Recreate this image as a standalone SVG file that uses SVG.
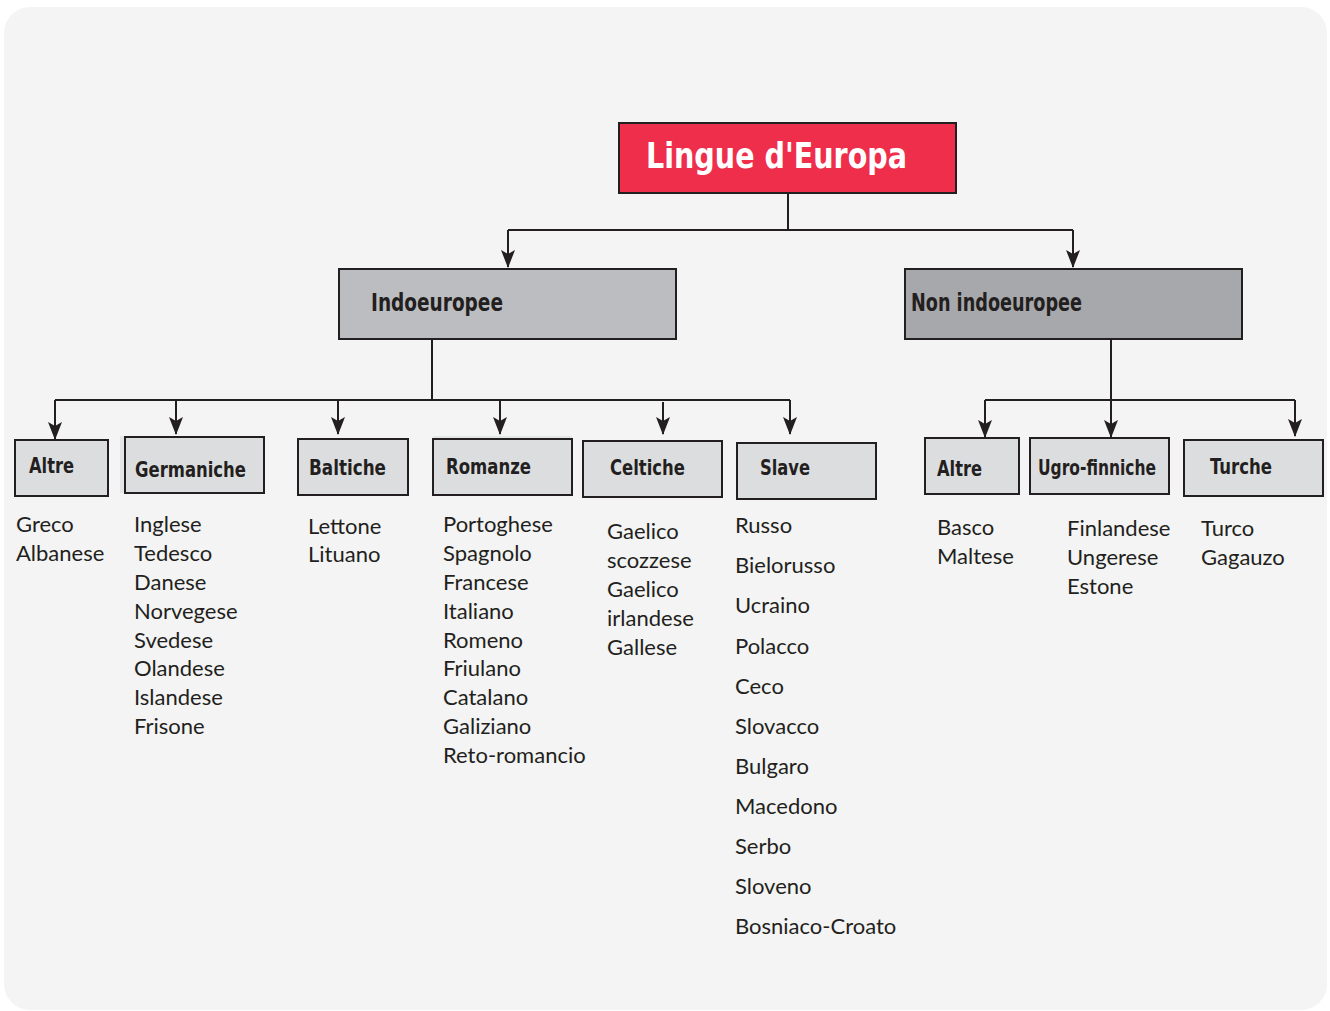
<svg xmlns="http://www.w3.org/2000/svg" width="1330" height="1011" viewBox="0 0 1330 1011">
<defs>
<marker id="ah" markerUnits="userSpaceOnUse" markerWidth="18" markerHeight="14" viewBox="0 0 18 14" refX="17" refY="7" orient="auto">
<path d="M0,0 L18,7 L0,14 L4,7 Z" fill="#231f20"/>
</marker>
<style>
.box{stroke:#231f20;stroke-width:2}
.sub{fill:#dcdddf}
.hd{font-family:"DejaVu Sans Condensed","DejaVu Sans",sans-serif;font-weight:bold;fill:#231f20}
.it{font-family:Lato,"Open Sans",sans-serif;font-size:22px;fill:#231f20}
.ln{stroke:#231f20;stroke-width:2;fill:none}
.arr{stroke:#231f20;stroke-width:2;fill:none}
</style>
</defs>
<rect x="0" y="0" width="1330" height="1011" fill="#ffffff"/>
<rect x="4" y="7" width="1323" height="1003" rx="26" fill="#f3f4f3"/>

<g id="connectors">
<polyline class="ln" points="788,193 788,230"/>
<polyline class="ln" points="508,230 1073,230"/>
<line class="arr" x1="508" y1="230" x2="508" y2="267" marker-end="url(#ah)"/>
<line class="arr" x1="1073" y1="230" x2="1073" y2="267" marker-end="url(#ah)"/>
<polyline class="ln" points="432,339 432,400"/>
<polyline class="ln" points="55,400 790,400"/>
<line class="arr" x1="55" y1="400" x2="55" y2="439" marker-end="url(#ah)"/>
<line class="arr" x1="176" y1="400" x2="176" y2="434" marker-end="url(#ah)"/>
<line class="arr" x1="338" y1="400" x2="338" y2="434" marker-end="url(#ah)"/>
<line class="arr" x1="500" y1="400" x2="500" y2="434" marker-end="url(#ah)"/>
<line class="arr" x1="663" y1="402" x2="663" y2="434" marker-end="url(#ah)"/>
<line class="arr" x1="790" y1="400" x2="790" y2="434" marker-end="url(#ah)"/>
<line class="arr" x1="1111" y1="340" x2="1111" y2="437" marker-end="url(#ah)"/>
<polyline class="ln" points="985,400 1295,400"/>
<line class="arr" x1="985" y1="400" x2="985" y2="437" marker-end="url(#ah)"/>
<line class="arr" x1="1295" y1="400" x2="1295" y2="436" marker-end="url(#ah)"/>
</g>

<g id="root">
<rect class="box" x="619" y="123" width="337" height="70" fill="#ee2e4b"/>
<text x="646" y="168" class="hd" font-size="36" style="fill:#ffffff" textLength="261" lengthAdjust="spacingAndGlyphs">Lingue d'Europa</text>
</g>

<g id="indoeuropee">
<rect class="box" x="339" y="269" width="337" height="70" fill="#bcbdc0"/>
<text x="371" y="311" class="hd" font-size="25" textLength="132" lengthAdjust="spacingAndGlyphs">Indoeuropee</text>
</g>

<g id="non-indoeuropee">
<rect class="box" x="905" y="269" width="337" height="70" fill="#a7a8ab"/>
<text x="911" y="311" class="hd" font-size="25" textLength="171" lengthAdjust="spacingAndGlyphs">Non indoeuropee</text>
</g>

<g id="altre-indo">
<rect class="box sub" x="15" y="440" width="93" height="56"/>
<text x="29" y="473" class="hd" font-size="22" textLength="45" lengthAdjust="spacingAndGlyphs">Altre</text>
<text class="it" x="16" y="532">Greco</text>
<text class="it" x="16" y="561">Albanese</text>
</g>

<g id="germaniche">
<rect x="120" y="436" width="143" height="57" fill="#e4e5e6"/>
<rect class="box sub" x="125" y="437" width="139" height="56"/>
<text x="135" y="477" class="hd" font-size="22" textLength="111" lengthAdjust="spacingAndGlyphs">Germaniche</text>
<text class="it" x="134" y="532">Inglese</text>
<text class="it" x="134" y="561">Tedesco</text>
<text class="it" x="134" y="590">Danese</text>
<text class="it" x="134" y="619">Norvegese</text>
<text class="it" x="134" y="648">Svedese</text>
<text class="it" x="134" y="676">Olandese</text>
<text class="it" x="134" y="705">Islandese</text>
<text class="it" x="134" y="734">Frisone</text>
</g>

<g id="baltiche">
<rect class="box sub" x="298" y="439" width="110" height="56"/>
<text x="309" y="475" class="hd" font-size="22" textLength="77" lengthAdjust="spacingAndGlyphs">Baltiche</text>
<text class="it" x="308" y="534">Lettone</text>
<text class="it" x="308" y="562">Lituano</text>
</g>

<g id="romanze">
<rect x="433" y="436" width="139" height="58" fill="#e4e5e6"/>
<rect class="box sub" x="433" y="439" width="139" height="56"/>
<text x="446" y="474" class="hd" font-size="22" textLength="85" lengthAdjust="spacingAndGlyphs">Romanze</text>
<text class="it" x="443" y="532">Portoghese</text>
<text class="it" x="443" y="561">Spagnolo</text>
<text class="it" x="443" y="590">Francese</text>
<text class="it" x="443" y="619">Italiano</text>
<text class="it" x="443" y="648">Romeno</text>
<text class="it" x="443" y="676">Friulano</text>
<text class="it" x="443" y="705">Catalano</text>
<text class="it" x="443" y="734">Galiziano</text>
<text class="it" x="443" y="763">Reto-romancio</text>
</g>

<g id="celtiche">
<rect class="box sub" x="583" y="441" width="139" height="56"/>
<text x="610" y="475" class="hd" font-size="22" textLength="75" lengthAdjust="spacingAndGlyphs">Celtiche</text>
<text class="it" x="607" y="539">Gaelico</text>
<text class="it" x="607" y="568">scozzese</text>
<text class="it" x="607" y="597">Gaelico</text>
<text class="it" x="607" y="626">irlandese</text>
<text class="it" x="607" y="655">Gallese</text>
</g>

<g id="slave">
<rect class="box sub" x="737" y="443" width="139" height="56"/>
<text x="760" y="475" class="hd" font-size="22" textLength="50" lengthAdjust="spacingAndGlyphs">Slave</text>
<text class="it" x="735" y="533">Russo</text>
<text class="it" x="735" y="573">Bielorusso</text>
<text class="it" x="735" y="613">Ucraino</text>
<text class="it" x="735" y="654">Polacco</text>
<text class="it" x="735" y="694">Ceco</text>
<text class="it" x="735" y="734">Slovacco</text>
<text class="it" x="735" y="774">Bulgaro</text>
<text class="it" x="735" y="814">Macedono</text>
<text class="it" x="735" y="854">Serbo</text>
<text class="it" x="735" y="894">Sloveno</text>
<text class="it" x="735" y="934">Bosniaco-Croato</text>
</g>

<g id="altre-non">
<rect class="box sub" x="925" y="438" width="94" height="56"/>
<text x="937" y="476" class="hd" font-size="22" textLength="45" lengthAdjust="spacingAndGlyphs">Altre</text>
<text class="it" x="937" y="535">Basco</text>
<text class="it" x="937" y="564">Maltese</text>
</g>

<g id="ugro-finniche">
<rect class="box sub" x="1030" y="438" width="139" height="56"/>
<text x="1038" y="475" class="hd" font-size="22" textLength="118" lengthAdjust="spacingAndGlyphs">Ugro-finniche</text>
<text class="it" x="1067" y="536">Finlandese</text>
<text class="it" x="1067" y="565">Ungerese</text>
<text class="it" x="1067" y="594">Estone</text>
</g>

<g id="turche">
<rect class="box sub" x="1184" y="440" width="139" height="56"/>
<text x="1210" y="474" class="hd" font-size="22" textLength="62" lengthAdjust="spacingAndGlyphs">Turche</text>
<text class="it" x="1201" y="536">Turco</text>
<text class="it" x="1201" y="565">Gagauzo</text>
</g>
</svg>
